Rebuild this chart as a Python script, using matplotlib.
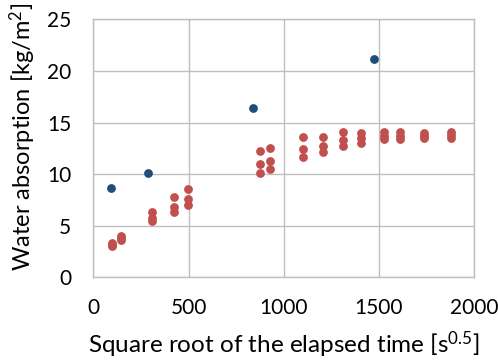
import matplotlib
matplotlib.use("Agg")
import matplotlib.pyplot as plt

plt.rcParams["font.family"] = ["Lato", "DejaVu Sans"]
plt.rcParams["mathtext.fontset"] = "custom"
plt.rcParams["mathtext.rm"] = "Lato"
plt.rcParams["mathtext.it"] = "Lato:italic"

# Single specimen series (blue)
blue_x = [93, 289, 839, 1476]
blue_y = [8.62, 10.14, 16.43, 21.15]

# Replicate specimens (red), three readings per time step
red_x = [97, 97, 97,
         144, 144, 144,
         310, 310, 310,
         425, 425, 425,
         497, 497, 497,
         877, 877, 877,
         930, 930, 930,
         1100, 1100, 1100,
         1207, 1207, 1207,
         1312, 1312, 1312,
         1405, 1405, 1405,
         1526, 1526, 1526,
         1611, 1611, 1611,
         1737, 1737, 1737,
         1877, 1877, 1877]
red_y = [3.29, 3.15, 3.03,
         4.00, 3.80, 3.61,
         6.36, 5.72, 5.46,
         7.75, 6.84, 6.36,
         8.59, 7.59, 7.00,
         12.24, 10.95, 10.08,
         12.50, 11.27, 10.49,
         13.57, 12.43, 11.66,
         13.62, 12.75, 12.17,
         14.05, 13.30, 12.69,
         13.95, 13.47, 12.98,
         14.05, 13.72, 13.37,
         14.05, 13.72, 13.40,
         13.95, 13.70, 13.53,
         14.05, 13.75, 13.47]

x_ticks = [0, 500, 1000, 1500, 2000]
y_ticks = [0, 5, 10, 15, 20, 25]

fig = plt.figure(figsize=(4.98, 3.62), dpi=100)
ax = fig.add_axes([0.1874, 0.234, 0.7646, 0.7126])

grid_color = "#BFBFBF"
ax.set_xlim(0, 2000)
ax.set_ylim(0, 25)
ax.set_xticks(x_ticks)
ax.set_yticks(y_ticks)
ax.grid(True, color=grid_color, linewidth=1.0)
ax.set_axisbelow(True)
for s in ax.spines.values():
    s.set_color(grid_color)
    s.set_linewidth(1.0)
ax.tick_params(length=0, labelsize=15, colors="#000000")
ax.tick_params(axis="x", pad=15)
ax.tick_params(axis="y", pad=16)

ax.scatter(red_x, red_y, s=40, color="#C0504D", zorder=3, linewidths=0)
ax.scatter(blue_x, blue_y, s=40, color="#1F4E79", zorder=3, linewidths=0)

ax.set_xlabel(r"Square root of the elapsed time [s$^{0.5}$]", fontsize=17.5)
ax.xaxis.label.set_va("center")
ax.xaxis.set_label_coords(0.5, -0.26)
ax.set_ylabel(r"Water absorption [kg/m$^{2}$]", fontsize=17)
ax.yaxis.label.set_va("center")
ax.yaxis.set_label_coords(-0.185, 0.544)

fig.savefig("out.png", dpi=100)
